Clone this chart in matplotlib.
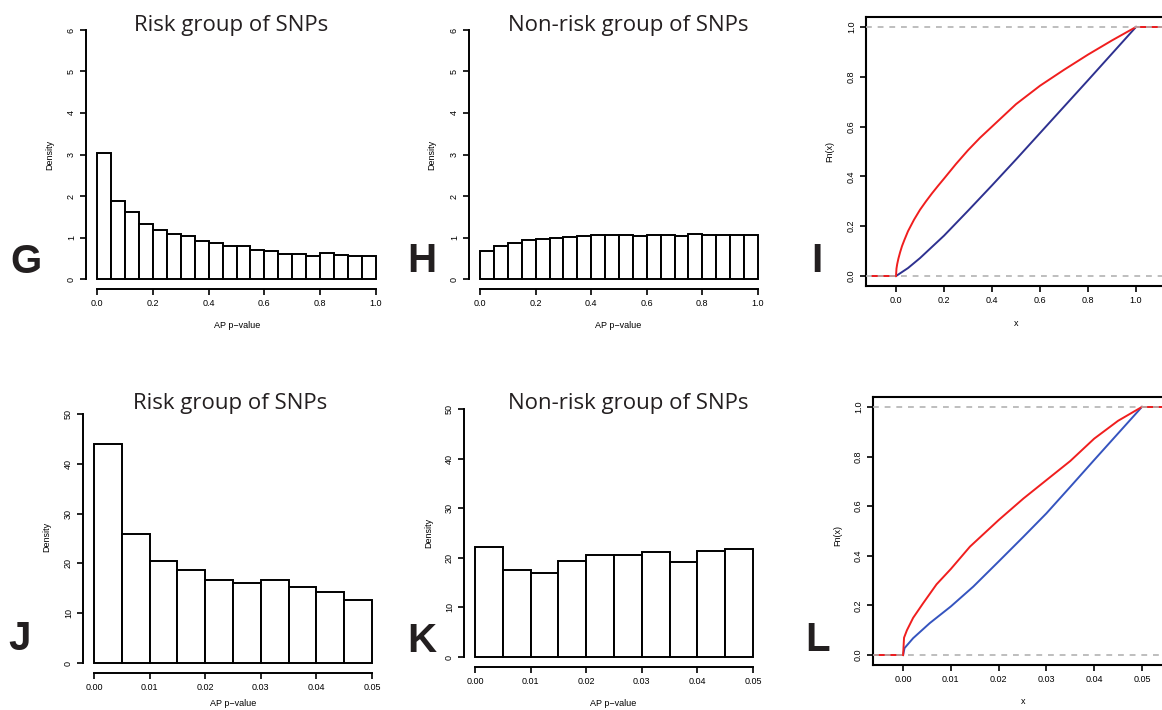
#!/usr/bin/env python3

import numpy as np
import matplotlib
matplotlib.use('Agg')
import matplotlib.pyplot as plt

W, H = 1162, 710

# histogram densities
edges_01 = np.linspace(0, 1, 21)
dens_g = [3.03, 1.89, 1.61, 1.33, 1.19, 1.08, 1.03, 0.92, 0.88, 0.79,
          0.79, 0.69, 0.67, 0.61, 0.61, 0.56, 0.63, 0.58, 0.55, 0.55]
dens_h = [0.67, 0.80, 0.86, 0.94, 0.97, 1.00, 1.01, 1.03, 1.05, 1.05,
          1.05, 1.04, 1.06, 1.06, 1.04, 1.08, 1.07, 1.06, 1.06, 1.06]

edges_005 = np.linspace(0, 0.05, 11)
dens_j = [43.9, 25.9, 20.5, 18.6, 16.6, 16.1, 16.7, 15.3, 14.2, 12.7]
dens_k = [22.1, 17.5, 16.9, 19.4, 20.5, 20.5, 21.2, 19.2, 21.4, 21.7]

# ecdf curves
i_red_x = [0, 0.002, 0.005, 0.01, 0.017, 0.025, 0.035, 0.05, 0.075, 0.1,
           0.125, 0.15, 0.175, 0.2, 0.25, 0.3, 0.35, 0.4, 0.5, 0.6, 0.7,
           0.8, 0.9, 1.0]
i_red_y = [0, 0.03, 0.048, 0.07, 0.095, 0.12, 0.145, 0.18, 0.226, 0.266,
           0.30, 0.332, 0.362, 0.391, 0.45, 0.505, 0.555, 0.60, 0.69, 0.764,
           0.828, 0.889, 0.946, 1.0]
i_blue_x = [0, 0.05, 0.1, 0.2, 0.3, 0.4, 0.5, 0.6, 0.7, 0.8, 0.9, 1.0]
i_blue_y = [0, 0.032, 0.072, 0.162, 0.262, 0.364, 0.468, 0.574, 0.68, 0.786, 0.893, 1.0]

l_red_x = [0, 0.0002, 0.0008, 0.0021, 0.0042, 0.007, 0.01, 0.014, 0.02,
           0.0252, 0.03, 0.035, 0.04, 0.045, 0.05]
l_red_y = [0, 0.07, 0.10, 0.150, 0.209, 0.285, 0.347, 0.437, 0.544,
           0.631, 0.705, 0.782, 0.872, 0.944, 1.0]
l_blue_x = [0, 0.0003, 0.0021, 0.0056, 0.01, 0.0147, 0.02, 0.0252, 0.03,
            0.035, 0.04, 0.045, 0.05]
l_blue_y = [0, 0.028, 0.068, 0.129, 0.196, 0.276, 0.377, 0.477, 0.571,
            0.678, 0.786, 0.893, 1.0]

RED = '#f01e1e'
NAVY = '#2e3190'
BLUE = '#3554bf'
GRAY = '#b3b3b3'
TICKFONT = 'Liberation Sans'
TITLEFONT = 'Open Sans'
SMALL = 6.5

fig = plt.figure(figsize=(W / 100, H / 100), dpi=100)


def px_axes(left, top, right, bottom):
    return fig.add_axes([left / W, 1 - bottom / H, (right - left) / W, (bottom - top) / H])


def ftext(x, y, s, **kw):
    fig.text(x / W, 1 - y / H, s, **kw)


def style_ticks(ax, xticks, yticks, xfmt, yfmt):
    ax.set_xticks(xticks)
    ax.set_yticks(yticks)
    ax.set_xticklabels([xfmt.format(v) for v in xticks])
    ax.set_yticklabels([yfmt.format(v) for v in yticks], rotation=90, va='center')
    ax.tick_params(direction='out', length=4.3, width=1.2, labelsize=SMALL, pad=3)
    for lbl in ax.get_xticklabels() + ax.get_yticklabels():
        lbl.set_family(TICKFONT)


def hist_panel(box, edges, dens, xlim, ylim, xticks, yticks, xfmt):
    ax = px_axes(*box)
    ax.bar(edges[:-1], dens, width=np.diff(edges), align='edge',
           color='white', edgecolor='black', linewidth=1.4)
    ax.set_xlim(xlim)
    ax.set_ylim(ylim)
    ax.patch.set_alpha(0)
    for s in ['top', 'right']:
        ax.spines[s].set_visible(False)
    for s in ['left', 'bottom']:
        ax.spines[s].set_linewidth(1.4)
    ax.spines['left'].set_bounds(yticks[0], yticks[-1])
    ax.spines['bottom'].set_bounds(xticks[0], xticks[-1])
    style_ticks(ax, xticks, yticks, xfmt, '{:g}')
    return ax


def ecdf_panel(box, xlim, curves, xticks, xfmt):
    ax = px_axes(*box)
    for cx, cy, col, left in curves:
        ax.plot([left, cx[0]], [0, 0], color=col, lw=1.4)
        ax.plot(cx, cy, color=col, lw=1.4)
        ax.plot([cx[-1], xlim[1] + 1], [1, 1], color=col, lw=1.4)
    for yv in (0, 1):
        ax.axhline(yv, color=GRAY, lw=1.2, ls=(0, (3.5, 3.5)), zorder=5)
    ax.set_xlim(xlim)
    ax.set_ylim(-0.04, 1.04)
    for s in ax.spines.values():
        s.set_linewidth(1.5)
    style_ticks(ax, xticks, [0, 0.2, 0.4, 0.6, 0.8, 1.0], xfmt, '{:.1f}')
    return ax


# top row
hist_panel((86, 20, 387, 289), edges_01, dens_g, (-0.04, 1.04), (-0.24, 6.24),
           [0, 0.2, 0.4, 0.6, 0.8, 1.0], [0, 1, 2, 3, 4, 5, 6], '{:.1f}')
hist_panel((469, 20, 769, 289), edges_01, dens_h, (-0.04, 1.04), (-0.24, 6.24),
           [0, 0.2, 0.4, 0.6, 0.8, 1.0], [0, 1, 2, 3, 4, 5, 6], '{:.1f}')
ecdf_panel((866, 17, 1166, 286), (-0.125, 1.125),
           [(i_blue_x, i_blue_y, NAVY, -0.1), (i_red_x, i_red_y, RED, -0.1)],
           [0, 0.2, 0.4, 0.6, 0.8, 1.0], '{:.1f}')

# bottom row
hist_panel((83, 404, 383, 673), edges_005, dens_j, (-0.002, 0.052), (-2, 52),
           [0, 0.01, 0.02, 0.03, 0.04, 0.05], [0, 10, 20, 30, 40, 50], '{:.2f}')
hist_panel((464, 399, 764, 667), edges_005, dens_k, (-0.002, 0.052), (-2, 52),
           [0, 0.01, 0.02, 0.03, 0.04, 0.05], [0, 10, 20, 30, 40, 50], '{:.2f}')
ecdf_panel((873, 397, 1172, 665), (-0.0063, 0.0563),
           [(l_blue_x, l_blue_y, BLUE, -0.0063), (l_red_x, l_red_y, RED, -0.0063)],
           [0, 0.01, 0.02, 0.03, 0.04, 0.05], '{:.2f}')

# titles
title_kw = dict(family=TITLEFONT, fontsize=16, color='#231f20', ha='center', va='center')
ftext(231, 26, 'Risk group of SNPs', **title_kw)
ftext(628, 26, 'Non-risk group of SNPs', **title_kw)
ftext(230, 403, 'Risk group of SNPs', **title_kw)
ftext(628, 404, 'Non-risk group of SNPs', **title_kw)

# axis labels
lab_kw = dict(family=TICKFONT, fontsize=SMALL, ha='center', va='center')
ftext(50, 155, 'Density', rotation=90, **lab_kw)
ftext(237, 325, 'AP p\u2212value', **lab_kw)
ftext(432, 155, 'Density', rotation=90, **lab_kw)
ftext(618, 325, 'AP p\u2212value', **lab_kw)
ftext(830, 152, 'Fn(x)', rotation=90, **lab_kw)
ftext(1016, 323, 'x', **lab_kw)
ftext(47, 537, 'Density', rotation=90, **lab_kw)
ftext(233, 704, 'AP p\u2212value', **lab_kw)
ftext(429, 533, 'Density', rotation=90, **lab_kw)
ftext(613, 703, 'AP p\u2212value', **lab_kw)
ftext(838, 535, 'Fn(x)', rotation=90, **lab_kw)
ftext(1023, 702, 'x', **lab_kw)

# panel letters
let_kw = dict(family=TICKFONT, fontsize=29, fontweight='bold', color='#231f20',
              ha='center', va='center')
ftext(26, 262, 'G', **let_kw)
ftext(422, 261, 'H', **let_kw)
ftext(817, 261, 'I', **let_kw)
ftext(20, 639, 'J', **let_kw)
ftext(422, 641, 'K', **let_kw)
ftext(818, 640, 'L', **let_kw)

fig.savefig('out.png', dpi=100)
